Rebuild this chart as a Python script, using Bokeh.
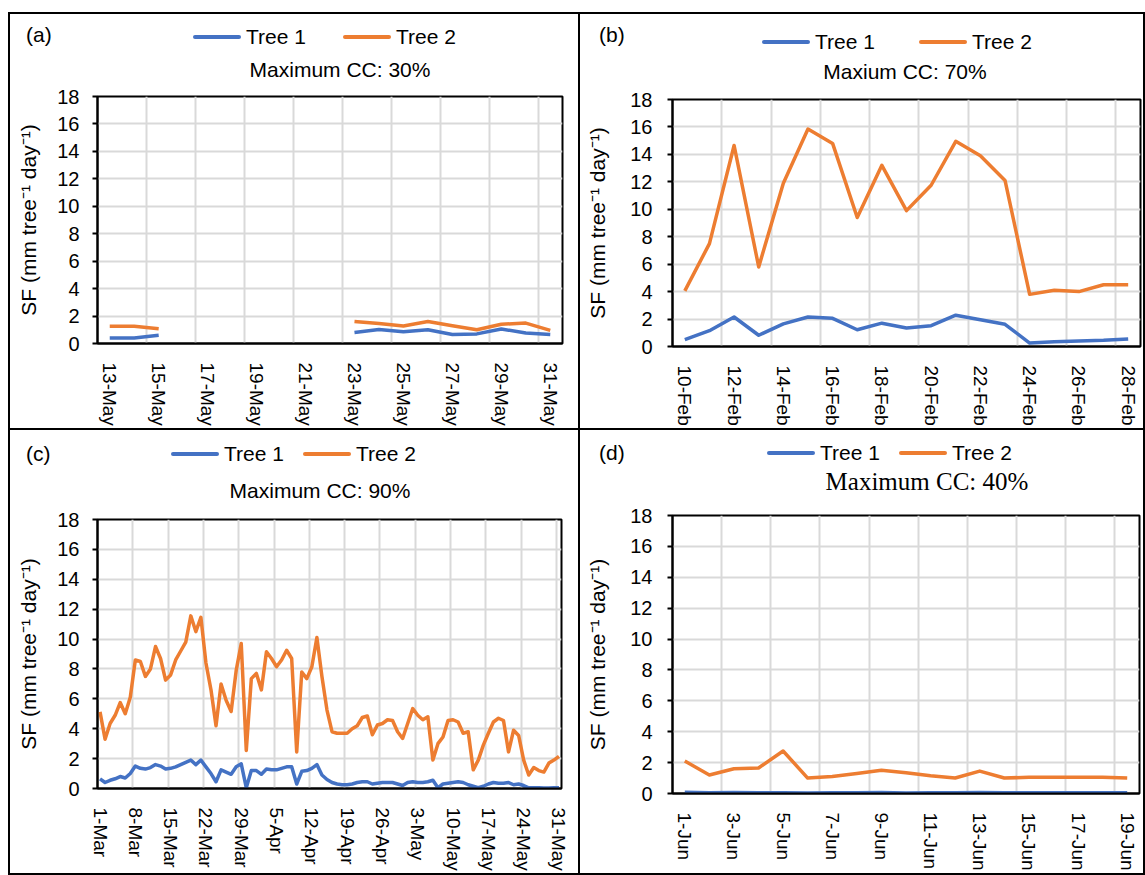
import pandas as pd
from bokeh.plotting import figure
from bokeh.models import (Range1d, FixedTicker, GridBox, Spacer, Row, Column, Div)
from bokeh.embed import file_html
from bokeh.resources import INLINE

NaN = float("nan")

# ---------------- data ----------------
a_dates = [f"{d}-May" for d in range(13, 32)]
a_tree1 = [0.40, 0.40, 0.60, NaN, NaN, NaN, NaN, NaN, NaN, NaN,
           0.80, 1.02, 0.85, 1.00, 0.66, 0.70, 1.06, 0.76, 0.66]
a_tree2 = [1.25, 1.25, 1.07, NaN, NaN, NaN, NaN, NaN, NaN, NaN,
           1.61, 1.45, 1.28, 1.60, 1.30, 1.00, 1.40, 1.49, 0.96]

b_dates = [f"{d}-Feb" for d in range(10, 29)]
b_tree1 = [0.50, 1.15, 2.15, 0.82, 1.65, 2.15, 2.05, 1.22, 1.70, 1.35,
           1.52, 2.28, 1.95, 1.62, 0.25, 0.35, 0.40, 0.45, 0.55]
b_tree2 = [4.05, 7.50, 14.65, 5.80, 11.90, 15.85, 14.80, 9.40, 13.20, 9.90,
           11.75, 14.95, 13.90, 12.10, 3.80, 4.10, 4.00, 4.50, 4.50]

c_dates = [d.strftime("%-d-%b") for d in pd.date_range("2021-03-01", "2021-05-31")]
c_tree1 = [0.65, 0.40, 0.55, 0.65, 0.80, 0.70, 1.00, 1.50, 1.35, 1.30,
           1.40, 1.60, 1.50, 1.30, 1.35, 1.45, 1.60, 1.75, 1.90, 1.60,
           1.90, 1.45, 1.00, 0.45, 1.25, 1.10, 0.95, 1.45, 1.65, 0.05,
           1.20, 1.20, 0.95, 1.30, 1.25, 1.25, 1.35, 1.45, 1.45, 0.30,
           1.15, 1.20, 1.35, 1.60, 0.90, 0.60, 0.40, 0.30, 0.25, 0.25,
           0.30, 0.40, 0.45, 0.45, 0.30, 0.35, 0.40, 0.40, 0.40, 0.30,
           0.20, 0.40, 0.45, 0.40, 0.40, 0.45, 0.55, 0.05, 0.30, 0.35,
           0.40, 0.45, 0.40, 0.25, 0.15, 0.05, 0.15, 0.30, 0.40, 0.35,
           0.35, 0.40, 0.25, 0.30, 0.20, 0.05, 0.05, 0.05, 0.03, 0.03,
           0.05, 0.05]
c_tree2 = [5.13, 3.30, 4.35, 4.90, 5.75, 5.00, 6.10, 8.60, 8.50, 7.50,
           8.00, 9.50, 8.70, 7.25, 7.60, 8.60, 9.20, 9.80, 11.55, 10.50,
           11.45, 8.40, 6.60, 4.20, 7.00, 5.90, 5.15, 7.90, 9.70, 2.55,
           7.35, 7.70, 6.60, 9.15, 8.70, 8.15, 8.60, 9.25, 8.70, 2.45,
           7.80, 7.35, 8.15, 10.10, 7.50, 5.25, 3.80, 3.70, 3.70, 3.70,
           4.00, 4.20, 4.75, 4.85, 3.60, 4.25, 4.35, 4.60, 4.55, 3.80,
           3.35, 4.35, 5.35, 4.90, 4.60, 4.80, 1.90, 3.00, 3.45, 4.55,
           4.60, 4.45, 3.70, 3.80, 1.25, 1.90, 2.90, 3.70, 4.45, 4.70,
           4.55, 2.45, 3.90, 3.55, 1.90, 0.90, 1.40, 1.20, 1.10, 1.70,
           1.90, 2.15]

d_dates = [f"{d}-Jun" for d in range(1, 20)]
d_tree1 = [0.08, 0.05, 0.06, 0.05, 0.05, 0.03, 0.05, 0.05, 0.06, 0.04,
           0.05, 0.05, 0.06, 0.05, 0.05, 0.05, 0.05, 0.05, 0.05]
d_tree2 = [2.10, 1.20, 1.60, 1.65, 2.75, 1.00, 1.10, 1.30, 1.50, 1.35,
           1.15, 1.00, 1.45, 1.00, 1.05, 1.05, 1.05, 1.05, 1.00]

y_ticks = list(range(0, 19, 2))
Y_MAX = 18
series_names = ["Tree 1", "Tree 2"]

# ---------------- styles ----------------
BLUE = "#4472C4"
ORANGE = "#ED7D31"
COLORS = [BLUE, ORANGE]
GRID = "#D9D9D9"
SANS = "Liberation Sans"
SERIF = "Liberation Serif"
YLABEL = "SF (mm tree\u207b\u00b9 day\u207b\u00b9)"
LW = 3.5
TOPPAD = 12


def header_div(W, h, letter, letter_xy, title, title_xy, title_font,
               title_size, leg_x, leg_mid, leg_spacing):
    items = []
    for k, (name, col) in enumerate(zip(series_names, COLORS)):
        ml = 0 if k == 0 else leg_spacing
        items.append(
            f'<span style="display:inline-block;width:48px;height:4px;'
            f'border-radius:2px;background:{col};margin-left:{ml}px;'
            f'margin-right:5px;"></span><span>{name}</span>')
    legend_html = (
        f'<div style="position:absolute;left:{leg_x}px;top:{leg_mid - 12}px;'
        f'height:24px;line-height:24px;display:flex;align-items:center;'
        f'white-space:nowrap;font-size:21px;">' + "".join(items) + '</div>')
    letter_html = (
        f'<div style="position:absolute;left:{letter_xy[0]}px;'
        f'top:{letter_xy[1] - 12}px;height:24px;line-height:24px;'
        f'font-size:21px;white-space:nowrap;">{letter}</div>')
    title_html = (
        f'<div style="position:absolute;left:{title_xy[0] - 200}px;width:400px;'
        f'top:{title_xy[1] - 15}px;height:30px;line-height:30px;'
        f'text-align:center;white-space:nowrap;font-family:\'{title_font}\';'
        f'font-size:{title_size};">{title}</div>')
    html = (f'<div style="position:relative;width:{W}px;height:{h}px;'
            f'font-family:\'{SANS}\';color:black;">'
            + letter_html + legend_html + title_html + '</div>')
    return Div(text=html, width=W, height=h, margin=0,
               styles={"overflow": "visible", "background-color": "white"})


def chart(dates, t1, t2, step, W, H, fl, fr, fb, ystand, lstand):
    n = len(dates)
    x = list(range(n))
    p = figure(width=W, height=H, x_range=Range1d(-0.5, n - 0.5),
               y_range=Range1d(0, Y_MAX), output_backend="svg",
               toolbar_location=None, min_border_left=fl, min_border_right=fr,
               min_border_top=TOPPAD, min_border_bottom=fb)
    p.outline_line_color = "black"
    p.outline_line_width = 2
    p.outline_line_alpha = 1.0

    p.line(x, t1, color=BLUE, line_width=LW, line_join="round")
    p.line(x, t2, color=ORANGE, line_width=LW, line_join="round")

    label_idx = list(range(0, n, step))
    xa = p.xaxis[0]
    xa.ticker = FixedTicker(ticks=label_idx)
    xa.major_label_overrides = {i: dates[i] for i in label_idx}
    xa.major_label_orientation = "vertical"
    xa.major_label_standoff = 13
    xa.major_label_text_font = SANS
    xa.major_label_text_font_size = "19px"
    xa.major_label_text_color = "black"
    xa.major_tick_line_color = None
    xa.minor_tick_line_color = None
    xa.axis_line_color = "black"
    xa.axis_line_width = 2

    ya = p.yaxis[0]
    ya.ticker = FixedTicker(ticks=y_ticks)
    ya.major_tick_in = 0
    ya.major_tick_out = 5
    ya.major_tick_line_width = 2
    ya.major_tick_line_color = "black"
    ya.minor_tick_line_color = None
    ya.axis_line_color = "black"
    ya.axis_line_width = 2
    ya.major_label_standoff = ystand
    ya.major_label_text_font = SANS
    ya.major_label_text_font_size = "20px"
    ya.major_label_text_color = "black"
    ya.axis_label = YLABEL
    ya.axis_label_standoff = lstand
    ya.axis_label_text_font = SANS
    ya.axis_label_text_font_size = "21px"
    ya.axis_label_text_font_style = "normal"
    ya.axis_label_text_color = "black"

    p.xgrid.ticker = FixedTicker(ticks=[i - 0.5 for i in label_idx])
    p.xgrid.grid_line_color = GRID
    p.xgrid.grid_line_width = 2
    p.ygrid.grid_line_color = GRID
    p.ygrid.grid_line_width = 2
    return p


def cell(dates, t1, t2, step, W, H, frame, ystand, lstand, letter, letter_xy,
         title, title_xy, title_font, title_size, leg_x, leg_mid, leg_spacing):
    fl, fr, ft, fb = frame
    hh = ft - TOPPAD
    hd = header_div(W, hh, letter, letter_xy, title, title_xy, title_font,
                    title_size, leg_x, leg_mid, leg_spacing)
    p = chart(dates, t1, t2, step, W, H - hh, fl, fr, fb, ystand, lstand)
    return Column(children=[hd, p], spacing=0,
                  styles={"background-color": "white"})


ca = cell(a_dates, a_tree1, a_tree2, 2, 568, 414, (87, 16, 82, 82), 13, 14,
          "(a)", (16, 21), "Maximum CC: 30%", (330, 56), SANS, "21px",
          183, 23, 37)
cb = cell(b_dates, b_tree1, b_tree2, 2, 563, 414, (92, 3, 85, 76), 15, 18,
          "(b)", (19, 21), "Maxium CC: 70%", (325, 58), SANS, "21px",
          182, 28, 44)
cc = cell(c_dates, c_tree1, c_tree2, 7, 568, 443, (87, 17, 89, 85), 13, 14,
          "(c)", (16, 24), "Maximum CC: 90%", (310, 61), SANS, "21px",
          161, 24, 19)
cd = cell(d_dates, d_tree1, d_tree2, 2, 563, 443, (92, 4, 85, 72), 15, 18,
          "(d)", (19, 23), "Maximum CC: 40%", (347, 52), SERIF, "25px",
          187, 23, 19)

grid = GridBox(children=[(ca, 0, 0), (cb, 0, 1), (cc, 1, 0), (cd, 1, 1)],
               spacing=2,
               styles={"background-color": "black", "padding": "2px"})
layout = Column(children=[Spacer(width=1145, height=12),
                          Row(children=[Spacer(width=8, height=10), grid])])

with open("out.html", "w") as f:
    f.write(file_html(layout, INLINE))
